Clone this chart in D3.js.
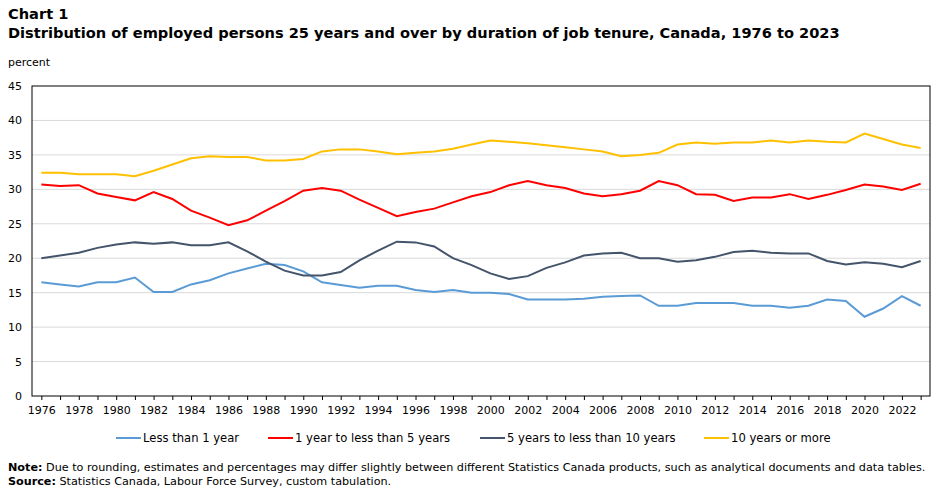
<!DOCTYPE html>
<html>
<head>
<meta charset="utf-8">
<script src="https://cdn.jsdelivr.net/npm/d3@7"></script>
<style>
  body { margin: 0; background: #fff; }
  text { font-family: "DejaVu Sans", Verdana, sans-serif; fill: #000; }
</style>
</head>
<body>
<svg id="chart" width="946" height="492"></svg>
<script>
// years 1976 to 2023
const years = d3.range(1976, 2024);

const lessThan1 = [16.5, 16.2, 15.9, 16.5, 16.5, 17.2, 15.1, 15.1, 16.2, 16.8,
  17.8, 18.5, 19.2, 19.0, 18.1, 16.5, 16.1, 15.7, 16.0, 16.0,
  15.4, 15.1, 15.4, 15.0, 15.0, 14.8, 14.0, 14.0, 14.0, 14.1,
  14.4, 14.5, 14.6, 13.1, 13.1, 13.5, 13.5, 13.5, 13.1, 13.1,
  12.8, 13.1, 14.0, 13.8, 11.5, 12.7, 14.5, 13.1];

const oneToFive = [30.7, 30.5, 30.6, 29.4, 28.9, 28.4, 29.6, 28.6, 26.9, 25.9,
  24.8, 25.5, 26.9, 28.3, 29.8, 30.2, 29.8, 28.5, 27.3, 26.1,
  26.7, 27.2, 28.1, 29.0, 29.6, 30.6, 31.2, 30.6, 30.2, 29.4,
  29.0, 29.3, 29.8, 31.2, 30.6, 29.3, 29.2, 28.3, 28.8, 28.8,
  29.3, 28.6, 29.2, 29.9, 30.7, 30.4, 29.9, 30.8];

const fiveToTen = [20.0, 20.4, 20.8, 21.5, 22.0, 22.3, 22.1, 22.3, 21.9, 21.9,
  22.3, 21.0, 19.5, 18.2, 17.5, 17.5, 18.0, 19.7, 21.1, 22.4,
  22.3, 21.7, 20.0, 19.0, 17.8, 17.0, 17.4, 18.6, 19.4, 20.4,
  20.7, 20.8, 20.0, 20.0, 19.5, 19.7, 20.2, 20.9, 21.1, 20.8,
  20.7, 20.7, 19.6, 19.1, 19.4, 19.2, 18.7, 19.6];

const tenPlus = [32.4, 32.4, 32.2, 32.2, 32.2, 31.9, 32.7, 33.6, 34.5, 34.8,
  34.7, 34.7, 34.2, 34.2, 34.4, 35.5, 35.8, 35.8, 35.5, 35.1,
  35.3, 35.5, 35.9, 36.5, 37.1, 36.9, 36.7, 36.4, 36.1, 35.8,
  35.5, 34.8, 35.0, 35.3, 36.5, 36.8, 36.6, 36.8, 36.8, 37.1,
  36.8, 37.1, 36.9, 36.8, 38.1, 37.3, 36.5, 36.0];

const seriesNames = ["Less than 1 year", "1 year to less than 5 years",
  "5 years to less than 10 years", "10 years or more"];
const seriesColors = ["#5b9bd5", "#ff0000", "#44546a", "#ffc000"];
const seriesValues = [lessThan1, oneToFive, fiveToTen, tenPlus];

const yTicks = d3.range(0, 46, 5);

const svg = d3.select("#chart");

const margin = {left: 32, top: 86, right: 16, bottom: 96};
const width = 946 - margin.left - margin.right;
const height = 492 - margin.top - margin.bottom;

// titles
svg.append("text").attr("x", 8).attr("y", 19)
  .style("font-size", "14.6px").style("font-weight", "bold")
  .text("Chart 1");
svg.append("text").attr("x", 8).attr("y", 38)
  .style("font-size", "14.6px").style("font-weight", "bold")
  .text("Distribution  of employed persons 25 years and over by duration of job tenure, Canada, 1976 to 2023");
svg.append("text").attr("x", 8).attr("y", 66)
  .style("font-size", "11px")
  .text("percent");

const g = svg.append("g").attr("transform", `translate(${margin.left},${margin.top})`);

let x = d3.scalePoint()
  .domain(years)
  .range([0, width])
  .padding(0.5);

let y = d3.scaleLinear()
  .domain([0, 45])
  .range([height, 0]);

// gridlines
g.append("g")
  .selectAll("line")
  .data(yTicks.filter(d => d > 0 && d < 45))
  .join("line")
  .attr("x1", 0).attr("x2", width)
  .attr("y1", d => y(d)).attr("y2", d => y(d))
  .attr("stroke", "#d9d9d9").attr("stroke-width", 1);

// y axis labels
let leftAxis = d3.axisLeft(y).tickValues(yTicks).tickSize(0).tickPadding(10);
let yAxis = g.append("g").call(leftAxis);
yAxis.select(".domain").remove();
yAxis.selectAll("text").style("font-size", "11px").style("font-family", "DejaVu Sans, Verdana, sans-serif");

// x axis
let bottomAxis = d3.axisBottom(x)
  .tickSize(4)
  .tickPadding(6)
  .tickFormat(d => (d % 2 === 0 ? d : ""));
let xAxis = g.append("g").attr("transform", `translate(0,${height})`).call(bottomAxis);
xAxis.select(".domain").remove();
xAxis.selectAll("line").attr("stroke", "#000");
xAxis.selectAll("text").style("font-size", "11px").style("font-family", "DejaVu Sans, Verdana, sans-serif");

// frame
g.append("rect")
  .attr("x", 0).attr("y", 0)
  .attr("width", width).attr("height", height)
  .attr("fill", "none").attr("stroke", "#000").attr("stroke-width", 1);

// lines
const line = d3.line()
  .x((d, i) => x(years[i]))
  .y(d => y(d));

g.append("g")
  .selectAll("path")
  .data(seriesValues)
  .join("path")
  .attr("d", d => line(d))
  .attr("fill", "none")
  .attr("stroke", (d, i) => seriesColors[i])
  .attr("stroke-width", 2);

// legend
const legendX = [116, 268, 480, 704];
const legend = svg.append("g").attr("transform", "translate(0,438)");
const item = legend.selectAll("g")
  .data(seriesNames)
  .join("g")
  .attr("transform", (d, i) => `translate(${legendX[i]},0)`);
item.append("line")
  .attr("x1", 0).attr("x2", 25).attr("y1", 0).attr("y2", 0)
  .attr("stroke", (d, i) => seriesColors[i]).attr("stroke-width", 2);
item.append("text")
  .attr("x", 27).attr("y", 4)
  .style("font-size", "11.6px")
  .text(d => d);

// notes
const note = svg.append("text").attr("x", 8).attr("y", 471).style("font-size", "11.2px");
note.append("tspan").style("font-weight", "bold").text("Note:");
note.append("tspan").text(" Due to rounding, estimates and percentages may differ slightly between different Statistics Canada products, such as analytical documents and data tables.");
const source = svg.append("text").attr("x", 8).attr("y", 485).style("font-size", "11.2px");
source.append("tspan").style("font-weight", "bold").text("Source:");
source.append("tspan").text(" Statistics Canada, Labour Force Survey, custom tabulation.");
</script>
</body>
</html>
